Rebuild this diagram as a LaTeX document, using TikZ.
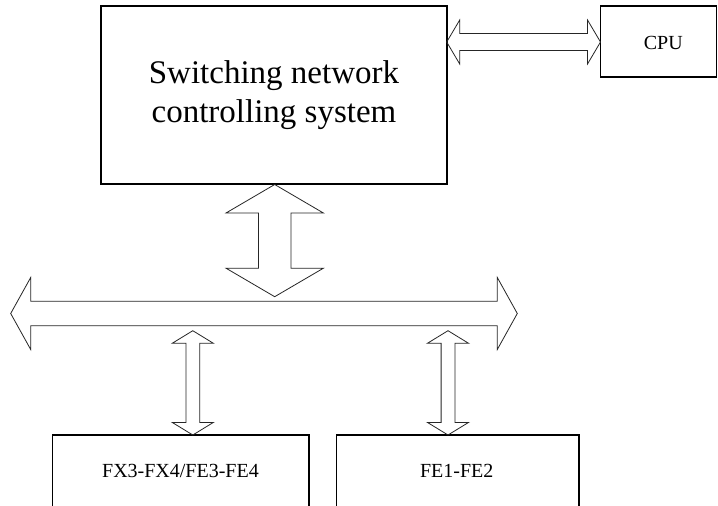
\documentclass[tikz,border=0pt]{standalone}
\usepackage{fontspec}
\setmainfont{Liberation Serif}
\newcommand\harrowshape[6]{% x1 x2 y headlen headhalf shafthalf
  \draw[arr] (#1,#3) -- (#1+#4,#3-#5) -- (#1+#4,#3-#6) -- (#2-#4,#3-#6) -- (#2-#4,#3-#5) -- (#2,#3)
    -- (#2-#4,#3+#5) -- (#2-#4,#3+#6) -- (#1+#4,#3+#6) -- (#1+#4,#3+#5) -- cycle;}
\newcommand\varrowshape[6]{% y1 y2 x headlen headhalf shafthalf
  \draw[arr] (#3,#1) -- (#3+#5,#1+#4) -- (#3+#6,#1+#4) -- (#3+#6,#2-#4) -- (#3+#5,#2-#4) -- (#3,#2)
    -- (#3-#5,#2-#4) -- (#3-#6,#2-#4) -- (#3-#6,#1+#4) -- (#3-#5,#1+#4) -- cycle;}
\begin{document}
\begin{tikzpicture}[x=1pt,y=-1pt,
  box/.style={draw=black,line width=1.2pt,inner sep=0pt},
  arr/.style={draw=black!85,line width=0.8pt,line join=miter},
  lbl/.style={inner sep=0pt,anchor=base}]
\useasboundingbox[fill=white] (0,0) rectangle (718,506);
% boxes
\node[box,minimum width=346pt,minimum height=178pt] (main) at (274,95) {};
\node[box,minimum width=116pt,minimum height=71pt] (cpu) at (658.5,41.5) {};
\node[box,minimum width=256.7pt,minimum height=100pt] (fx) at (180.65,485) {};
\node[box,minimum width=242.3pt,minimum height=100pt] (fe) at (457.85,485) {};
% texts
\node[lbl,font=\fontsize{33}{33}\selectfont] (t1) at (274,83.5) {Switching network};
\node[lbl,font=\fontsize{33}{33}\selectfont] (t2) at (274,122.5) {controlling system};
\node[lbl,font=\fontsize{20}{20}\selectfont] (tcpu) at (663.3,49) {CPU};
\node[lbl,font=\fontsize{20}{20}\selectfont] (tfx) at (180.5,477.7) {FX3-FX4/FE3-FE4};
\node[lbl,font=\fontsize{20}{20}\selectfont] (tfe) at (456.7,477.7) {FE1-FE2};
% arrows
\harrowshape{446.7}{600.5}{42}{13}{22}{8.5}
\varrowshape{184.5}{296.7}{274.7}{28.5}{48.7}{16.2}
\harrowshape{10.7}{517.3}{313.5}{20}{36}{12.2}
\varrowshape{330.7}{435}{192.8}{12.6}{20.6}{6.9}
\varrowshape{330.7}{435}{448}{12.6}{20.6}{6.9}
\end{tikzpicture}
\end{document}
